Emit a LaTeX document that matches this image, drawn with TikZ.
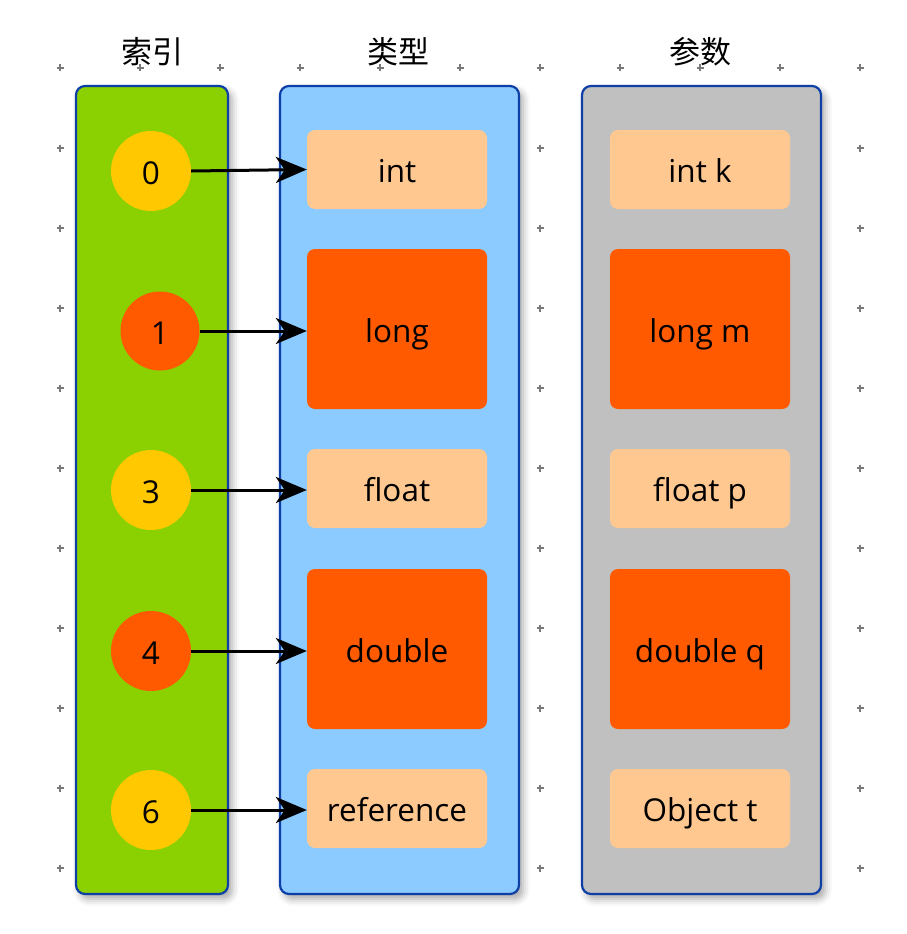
\documentclass[tikz,border=0pt]{standalone}
\usepackage{fontspec}
\setmainfont{Open Sans}
\newfontfamily\cjk{Noto Sans CJK SC}
\usetikzlibrary{arrows.meta,shadows.blur}
\definecolor{gridc}{HTML}{7A7A7A}
\definecolor{framec}{HTML}{0D3FA6}
\definecolor{greenc}{HTML}{8BD000}
\definecolor{bluec}{HTML}{8CCBFF}
\definecolor{grayc}{HTML}{C0C0C0}
\definecolor{lightor}{HTML}{FFC891}
\definecolor{darkor}{HTML}{FF5A00}
\definecolor{yellowc}{HTML}{FFC800}
\tikzset{
  column/.style={draw=framec, line width=2.2pt, rounded corners=9pt,
    blur shadow={shadow xshift=4pt, shadow yshift=-5pt, shadow blur radius=7pt, shadow opacity=35}},
  labelfont/.style={font=\fontsize{31.5}{34}\selectfont, text height=33pt, text depth=7pt},
  smallbox/.style={fill=lightor, rounded corners=8pt, minimum width=180pt, minimum height=79pt,
    inner sep=0pt, labelfont},
  bigbox/.style={fill=darkor, rounded corners=8pt, minimum width=180pt, minimum height=160pt,
    inner sep=0pt, labelfont},
  dot/.style={circle, minimum size=80pt, inner sep=0pt, labelfont},
  header/.style={font=\cjk\fontsize{31}{34}\selectfont},
  link/.style={line width=3pt, -{Stealth[length=31pt,width=26pt,inset=9pt]}},
  gridmark/.style={draw=gridc, line width=1.8pt}
}
\begin{document}
\begin{tikzpicture}[x=1pt,y=-1pt]
\useasboundingbox (0,0) rectangle (906,934);
% grid marks
\foreach \i in {0,...,10}{
  \foreach \j in {0,...,10}{
    \draw[gridmark] ({60+80*\i-3.5},{68+80*\j}) -- ({60+80*\i+3.5},{68+80*\j})
                    ({60+80*\i},{68+80*\j-3.5}) -- ({60+80*\i},{68+80*\j+3.5});
  }
}
% headers
\node[header] (h1) at (152,52) {索引};
\node[header] (h2) at (398,52) {类型};
\node[header] (h3) at (700,52) {参数};
% columns
\node[column, fill=greenc, minimum width=152pt, minimum height=808pt, inner sep=0pt] (col1) at (152,490) {};
\node[column, fill=bluec, minimum width=239pt, minimum height=808pt, inner sep=0pt] (col2) at (399.5,490) {};
\node[column, fill=grayc, minimum width=239pt, minimum height=808pt, inner sep=0pt] (col3) at (701.5,490) {};
% type boxes
\node[smallbox] (t0) at (397,169.5) {int};
\node[bigbox]   (t1) at (397,329) {long};
\node[smallbox] (t3) at (397,488.5) {float};
\node[bigbox]   (t4) at (397,649) {double};
\node[smallbox] (t6) at (397,808.5) {reference};
% param boxes
\node[smallbox] (p0) at (700,169.5) {int k};
\node[bigbox]   (p1) at (700,329) {long m};
\node[smallbox] (p3) at (700,488.5) {float p};
\node[bigbox]   (p4) at (700,649) {double q};
\node[smallbox] (p6) at (700,808.5) {Object t};
% index circles
\node[dot, fill=yellowc] (c0) at (151,171) {0};
\node[dot, fill=darkor, minimum size=79pt] (c1) at (160,331) {1};
\node[dot, fill=yellowc] (c3) at (151,490) {3};
\node[dot, fill=darkor] (c4) at (151,651) {4};
\node[dot, fill=yellowc] (c6) at (151,810) {6};
% links
\draw[link] (c0.east) -- (t0.west);
\draw[link] (c1.east) -- (c1.east -| t1.west);
\draw[link] (c3.east) -- (c3.east -| t3.west);
\draw[link] (c4.east) -- (c4.east -| t4.west);
\draw[link] (c6.east) -- (c6.east -| t6.west);
\end{tikzpicture}
\end{document}
